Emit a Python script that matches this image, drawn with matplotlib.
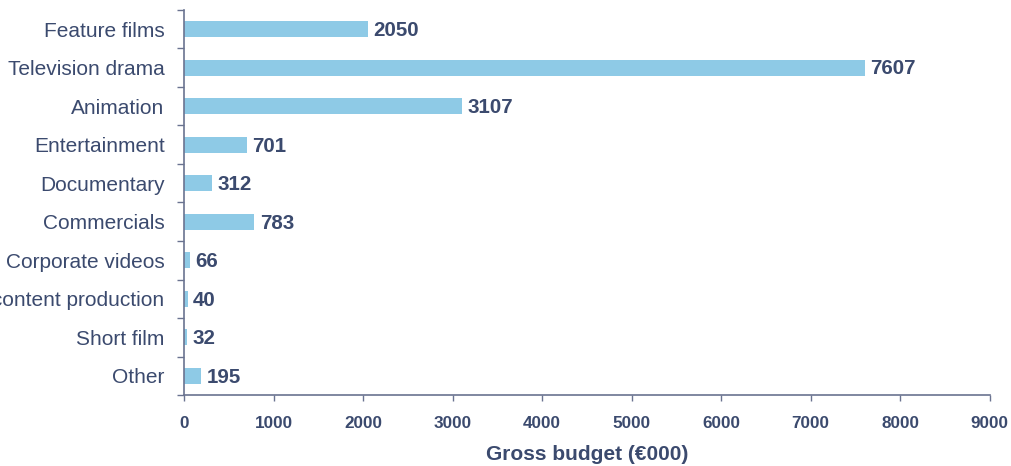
import matplotlib.pyplot as plt
import numpy as np

categories = ["Feature films", "Television drama", "Animation", "Entertainment",
              "Documentary", "Commercials", "Corporate videos",
              "Digital content production", "Short film", "Other"]
budget = [2050, 7607, 3107, 701, 312, 783, 66, 40, 32, 195]
xticks = [0, 1000, 2000, 3000, 4000, 5000, 6000, 7000, 8000, 9000]

bar_col = "#8ecae6"
text_col = "#3b4a6e"
axis_col = "#6a7390"

plt.rcParams['font.family'] = ['Liberation Sans', 'DejaVu Sans']

fig = plt.figure(figsize=(10.11, 4.66), dpi=100)
ax = fig.add_axes([0.182, 0.152, 0.797, 0.827])

y = np.arange(len(categories))
ax.barh(y, budget, height=0.42, color=bar_col)

# value labels at bar ends
for yi, v in zip(y, budget):
    ax.annotate(str(v), (v, yi), xytext=(4, -1), textcoords="offset points",
                va="center", ha="left", fontsize=14.8, fontweight="bold",
                color=text_col)

ax.set_ylim(len(categories) - 0.5, -0.5)
ax.set_xlim(0, 9000)

# category names at centers, tick marks at boundaries
ax.set_yticks(y)
ax.set_yticklabels(categories, fontsize=15, color=text_col)
ax.tick_params(axis="y", which="major", length=0, pad=14)
ax.set_yticks(np.arange(-0.5, len(categories), 1.0), minor=True)
ax.tick_params(axis="y", which="minor", length=5, width=1, color=axis_col)

ax.set_xticks(xticks)
ax.set_xticklabels([str(t) for t in xticks], fontsize=12.3, fontweight="bold",
                   color=text_col)
ax.tick_params(axis="x", length=4, width=1, color=axis_col, pad=11)

ax.set_xlabel("Gross budget (€000)", fontsize=15, fontweight="bold",
              color=text_col, labelpad=10)

for side in ["top", "right"]:
    ax.spines[side].set_visible(False)
for side in ["left", "bottom"]:
    ax.spines[side].set_color(axis_col)
    ax.spines[side].set_linewidth(1.2)

fig.savefig("out.png", dpi=100)
